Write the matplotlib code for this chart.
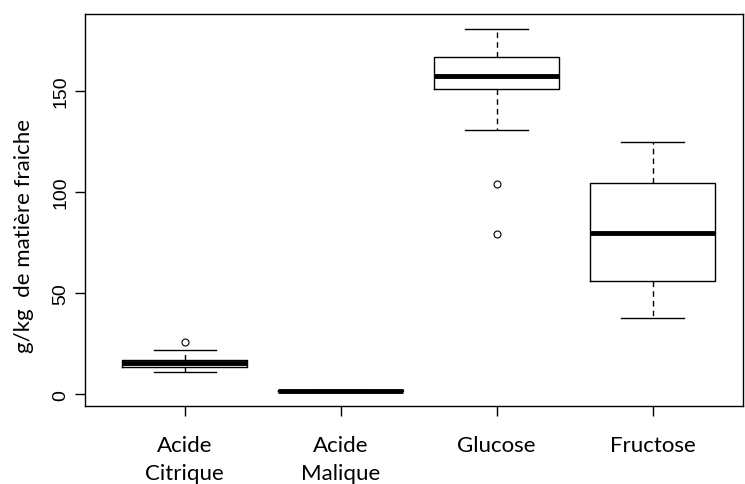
import matplotlib
matplotlib.use("Agg")
import matplotlib.pyplot as plt

# ── Data (g/kg) ─────────────────────────────────────────────────────────────
labels  = ["Acide\nCitrique", "Acide\nMalique", "Glucose", "Fructose"]
whislo  = [10.7, 1.2, 130.7, 37.5]
q1      = [13.2, 1.4, 151.0, 55.8]
medians = [15.5, 1.6, 157.6, 79.7]
q3      = [17.0, 1.8, 166.7, 104.3]
whishi  = [21.6, 2.0, 180.7, 124.6]
fliers  = [[25.9], [], [104.0, 79.2], []]

stats = [dict(label=l, whislo=a, q1=b, med=c, q3=d, whishi=e, fliers=f)
         for l, a, b, c, d, e, f in zip(labels, whislo, q1, medians, q3, whishi, fliers)]

fig = plt.figure(figsize=(7.45, 4.85), dpi=100)
ax = fig.add_axes([85 / 745, 78 / 485, 658 / 745, 392 / 485])

ax.bxp(stats, positions=[1, 2, 3, 4], widths=0.8,
       boxprops=dict(color="black", linewidth=1.0),
       medianprops=dict(color="black", linewidth=3.5, solid_capstyle="butt"),
       whiskerprops=dict(color="black", linewidth=1.0, linestyle=(0, (4, 3))),
       capprops=dict(color="black", linewidth=1.0),
       flierprops=dict(marker="o", markersize=5, markerfacecolor="none",
                       markeredgecolor="black", markeredgewidth=0.8),
       capwidths=0.4)

ax.set_xlim(0.36, 4.58)
ax.set_ylim(-5.9, 188.1)

ax.set_yticks([0, 50, 100, 150])
ax.set_yticklabels(["0", "50", "100", "150"], rotation=90, va="center",
                   fontsize=14, family="Liberation Sans")
ax.tick_params(axis="y", length=7, width=1, pad=4)

ax.set_xticks([1, 2, 3, 4])
ax.set_xticklabels(labels, fontsize=16, family="Lato", linespacing=1.5)
ax.tick_params(axis="x", length=7, width=1, pad=14)

for s in ax.spines.values():
    s.set_linewidth(1.0)

ax.set_ylabel("g/kg  de matière fraiche", fontsize=16, family="Lato")
ax.yaxis.set_label_coords(-0.078, 0.436)

fig.savefig("out.png", dpi=100)
